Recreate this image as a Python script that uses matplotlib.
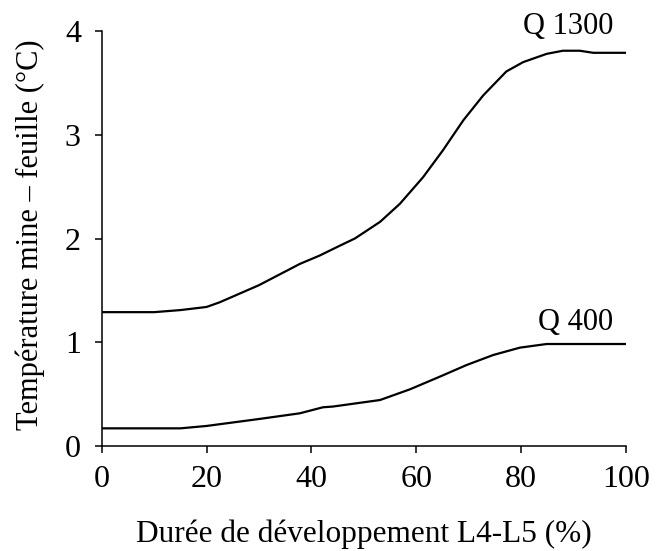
import matplotlib
matplotlib.use("Agg")
import matplotlib.pyplot as plt

plt.rcParams['font.family'] = ['Liberation Serif', 'DejaVu Serif']

# ── DONNÉES ──────────────────────────────────────────────────────────────────
duree_q1300 = [0, 10, 15, 20, 22.5, 30, 37.8, 41.6, 45.4, 48.3, 53.1, 56.9,
               61.3, 65.1, 69.0, 72.8, 77.2, 80.4, 84.9, 88.0, 91.2, 93.8, 100]
temp_q1300 = [1.29, 1.29, 1.31, 1.34, 1.385, 1.55, 1.755, 1.836, 1.93, 2.0,
              2.16, 2.335, 2.59, 2.85, 3.14, 3.38, 3.61, 3.70, 3.78, 3.81,
              3.81, 3.79, 3.79]

duree_q400 = [0, 15, 20, 30, 37.8, 42.2, 44.1, 53.1, 58.8, 64.5, 69.6, 74.7,
              79.8, 84.9, 100]
temp_q400 = [0.17, 0.17, 0.193, 0.26, 0.315, 0.373, 0.38, 0.443, 0.546, 0.668,
             0.78, 0.877, 0.948, 0.983, 0.983]

x_ticks = [0, 20, 40, 60, 80, 100]
y_ticks = [0, 1, 2, 3, 4]

# ── FIGURE ───────────────────────────────────────────────────────────────────
fig = plt.figure(figsize=(6.58, 5.51), dpi=100)
ax = fig.add_axes([0.1546, 0.1906, 0.7965, 0.7531])

ax.plot(duree_q1300, temp_q1300, color='black', lw=1.6)
ax.plot(duree_q400, temp_q400, color='black', lw=1.6)

ax.text(97.6, 4.04, "Q 1300", ha='right', va='center', fontsize=22)
ax.text(97.6, 1.19, "Q 400", ha='right', va='center', fontsize=22)

ax.set_xlim(0, 100)
ax.set_ylim(0, 4)
ax.set_xticks(x_ticks)
ax.set_yticks(y_ticks)
ax.tick_params(labelsize=23, length=5, width=1.1, direction='out')
ax.tick_params(axis='x', pad=9)
ax.tick_params(axis='y', pad=10)

for s in ['top', 'right']:
    ax.spines[s].set_visible(False)
for s in ['left', 'bottom']:
    ax.spines[s].set_linewidth(1.1)

ax.set_xlabel("Durée de développement L4-L5 (%)", fontsize=22.5, va='top')
ax.xaxis.set_label_coords(0.5, -0.178)
fig.text(30 / 658, 1 - 234.5 / 551, "Température mine – feuille (°C)",
         fontsize=22, rotation=90, ha='center', va='center')

fig.savefig("out.png", dpi=100)
